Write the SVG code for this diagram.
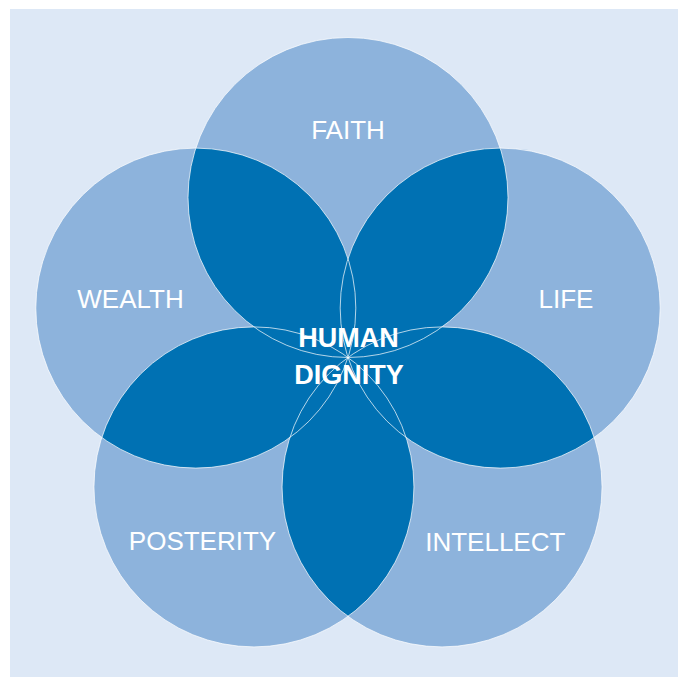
<svg xmlns="http://www.w3.org/2000/svg" width="678" height="677" viewBox="0 0 678 677">
<style>
.petal{fill:#8db3dc}
.lens{fill:#0071b3}
.edge{fill:none;stroke:#ffffff;stroke-width:1;stroke-opacity:0.7}
.lbl{font-family:"Liberation Sans",Arial,sans-serif;font-size:26px;fill:#ffffff;text-anchor:middle}
.core{font-family:"Liberation Sans",Arial,sans-serif;font-size:27px;font-weight:bold;fill:#ffffff;text-anchor:middle}
</style>
<defs>
<clipPath id="cF"><circle cx="348" cy="197.5" r="160"/></clipPath>
<clipPath id="cL"><circle cx="500.2" cy="308.1" r="160"/></clipPath>
<clipPath id="cI"><circle cx="442.05" cy="486.9" r="160"/></clipPath>
<clipPath id="cP"><circle cx="253.95" cy="486.9" r="160"/></clipPath>
<clipPath id="cW"><circle cx="195.8" cy="308.1" r="160"/></clipPath>
</defs>
<rect x="10" y="9" width="668" height="668" fill="#dde8f6"/>
<g id="faith"><circle class="petal" cx="348" cy="197.5" r="160"/><text class="lbl" x="348" y="138.5">FAITH</text></g>
<g id="life"><circle class="petal" cx="500.2" cy="308.1" r="160"/><text class="lbl" x="566" y="307.5">LIFE</text></g>
<g id="intellect"><circle class="petal" cx="442.05" cy="486.9" r="160"/><text class="lbl" x="495.3" y="550.5">INTELLECT</text></g>
<g id="posterity"><circle class="petal" cx="253.95" cy="486.9" r="160"/><text class="lbl" x="202.5" y="550">POSTERITY</text></g>
<g id="wealth"><circle class="petal" cx="195.8" cy="308.1" r="160"/><text class="lbl" x="130.5" y="307.5">WEALTH</text></g>
<g id="overlaps">
<circle class="lens" cx="348" cy="197.5" r="160" clip-path="url(#cL)"/>
<circle class="lens" cx="348" cy="197.5" r="160" clip-path="url(#cI)"/>
<circle class="lens" cx="348" cy="197.5" r="160" clip-path="url(#cP)"/>
<circle class="lens" cx="348" cy="197.5" r="160" clip-path="url(#cW)"/>
<circle class="lens" cx="500.2" cy="308.1" r="160" clip-path="url(#cI)"/>
<circle class="lens" cx="500.2" cy="308.1" r="160" clip-path="url(#cP)"/>
<circle class="lens" cx="500.2" cy="308.1" r="160" clip-path="url(#cW)"/>
<circle class="lens" cx="442.05" cy="486.9" r="160" clip-path="url(#cP)"/>
<circle class="lens" cx="442.05" cy="486.9" r="160" clip-path="url(#cW)"/>
<circle class="lens" cx="253.95" cy="486.9" r="160" clip-path="url(#cW)"/>
</g>
<g id="outlines">
<circle class="edge" cx="348" cy="197.5" r="160"/>
<circle class="edge" cx="500.2" cy="308.1" r="160"/>
<circle class="edge" cx="442.05" cy="486.9" r="160"/>
<circle class="edge" cx="253.95" cy="486.9" r="160"/>
<circle class="edge" cx="195.8" cy="308.1" r="160"/>
</g>
<g id="human-dignity">
<text class="core" x="348.5" y="346.5">HUMAN</text>
<text class="core" x="349" y="383.5">DIGNITY</text>
</g>
</svg>
